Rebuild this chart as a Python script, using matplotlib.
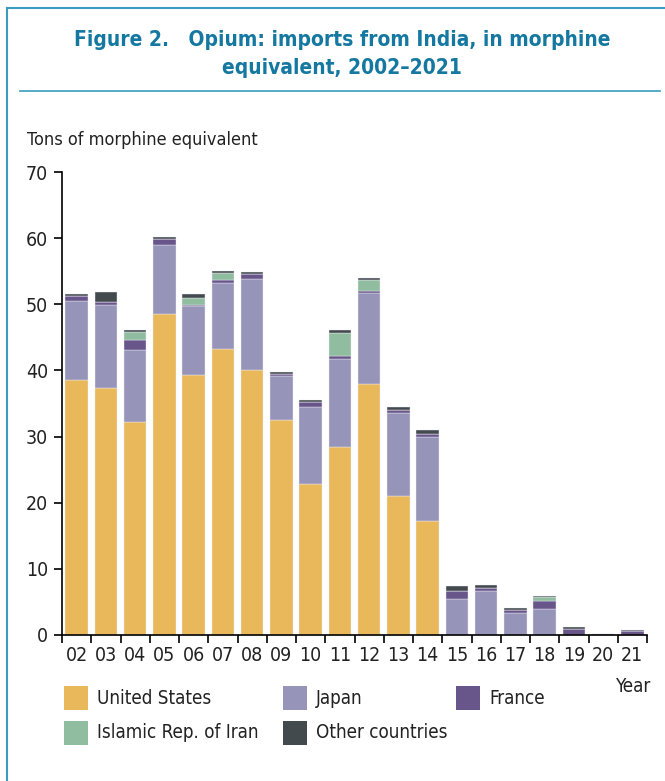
import matplotlib
matplotlib.use('Agg')
import matplotlib.pyplot as plt
import numpy as np
from matplotlib.patches import Rectangle
from matplotlib.lines import Line2D

plt.rcParams['font.family'] = ['DejaVu Sans']
plt.rcParams['font.stretch'] = 'condensed'

years = ['02', '03', '04', '05', '06', '07', '08', '09', '10', '11',
         '12', '13', '14', '15', '16', '17', '18', '19', '20', '21']
us = [38.6, 37.3, 32.2, 48.6, 39.3, 43.3, 40.1, 32.5, 22.8, 28.4,
      37.9, 21.0, 17.2, 0, 0, 0, 0, 0, 0, 0]
japan = [11.9, 12.6, 10.9, 10.4, 10.4, 9.9, 13.7, 6.7, 11.6, 13.3,
         13.8, 12.5, 12.7, 5.5, 6.65, 3.4, 4.0, 0, 0, 0]
france = [0.7, 0.5, 1.5, 0.9, 0.2, 0.4, 0.8, 0.3, 0.8, 0.45,
          0.3, 0.55, 0.55, 1.2, 0.4, 0.35, 1.15, 0.9, 0.1, 0.6]
iran = [0, 0, 1.2, 0, 1.1, 1.15, 0, 0, 0, 3.5,
        1.6, 0, 0, 0, 0, 0, 0.55, 0, 0, 0]
other = [0.3, 1.4, 0.25, 0.3, 0.6, 0.25, 0.25, 0.3, 0.3, 0.4,
         0.35, 0.45, 0.55, 0.7, 0.5, 0.35, 0.2, 0.3, 0.1, 0.15]

series = [('United States', us, '#E8B85A'),
          ('Japan', japan, '#9794BA'),
          ('France', france, '#68558A'),
          ('Islamic Rep. of Iran', iran, '#90BDA0'),
          ('Other countries', other, '#434A4E')]

W, H = 665, 781
fig = plt.figure(figsize=(W / 100, H / 100), dpi=100)

def fx(px):
    return px / W

def fy(py):
    return 1 - py / H

teal = '#1478A0'
frame = '#3A9DBE'
txt = '#222222'
# frame lines + title rule
fig.add_artist(Line2D([fx(7), fx(7)], [fy(8), 0], color=frame, lw=1.5))
fig.add_artist(Line2D([fx(7), 1], [fy(8), fy(8)], color=frame, lw=1.5))
fig.add_artist(Line2D([fx(20), fx(660)], [fy(91), fy(91)], color=frame, lw=1.2))

fig.text(fx(342), fy(40), 'Figure 2.   Opium: imports from India, in morphine',
         ha='center', va='center', fontsize=15, fontweight='bold', color=teal)
fig.text(fx(342), fy(68), 'equivalent, 2002\u20132021',
         ha='center', va='center', fontsize=15, fontweight='bold', color=teal)

ax = fig.add_axes([fx(62), fy(635), fx(647) - fx(62), fy(172) - fy(635)])
x = np.arange(len(years))
bottom = np.zeros(len(years))
for name, vals, col in series:
    v = np.array(vals)
    ax.bar(x, v, 0.77, bottom=bottom, color=col, edgecolor='#ECEAF2', linewidth=0.3)
    bottom += v

ax.set_xlim(-0.5, len(years) - 0.5)
ax.set_ylim(0, 70)
ax.set_yticks(range(0, 71, 10))
ax.tick_params(axis='y', labelsize=14, length=6, width=1.2, pad=4, labelcolor=txt)
ax.set_xticks(x)
ax.set_xticklabels(years)
ax.set_xticks(np.arange(-0.5, len(years)), minor=True)
ax.tick_params(axis='x', which='major', length=0, labelsize=14, pad=8, labelcolor=txt)
ax.tick_params(axis='x', which='minor', length=6, width=1.2)
for s in ['top', 'right']:
    ax.spines[s].set_visible(False)
for s in ['left', 'bottom']:
    ax.spines[s].set_linewidth(1.2)

fig.text(fx(27), fy(140), 'Tons of morphine equivalent', ha='left', va='center',
         fontsize=13, color=txt)
fig.text(fx(651), fy(687), 'Year', ha='right', va='center', fontsize=13.5, color=txt)

# legend grid
leg_pos = [(64, 698), (283, 698), (456, 698), (64, 733), (283, 733)]
for (name, vals, col), (lx, ly) in zip(series, leg_pos):
    fig.add_artist(Rectangle((fx(lx), fy(ly + 12)), fx(24), 24 / H,
                             transform=fig.transFigure, facecolor=col, edgecolor='none'))
    fig.text(fx(lx + 33), fy(ly), name, ha='left', va='center', fontsize=13.5, color=txt)

fig.savefig('out.png', dpi=100)
